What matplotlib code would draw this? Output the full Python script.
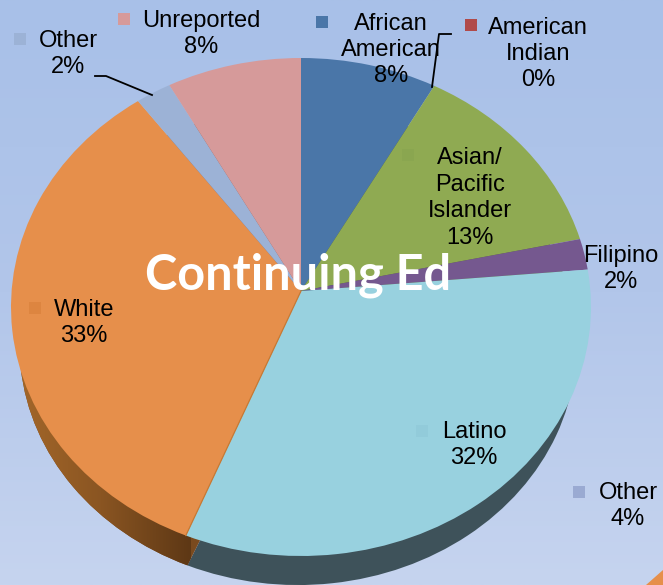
import numpy as np
import matplotlib
matplotlib.use("Agg")
import matplotlib.pyplot as plt
from matplotlib.colors import LinearSegmentedColormap

# slices as they appear, clockwise from 12 o'clock
slice_names = ["African American", "American Indian", "Asian/Pacific Islander", "Filipino",
               "Latino", "White", "Other", "Unreported"]
slice_values = [7.6, 0, 13, 2, 33.9, 34, 2, 7.5]
slice_colors = ["#4A76A8", "#B04A4A", "#8FAA52", "#75588F", "#98D1DF", "#E68F4B", "#9CB2D6", "#D69A9A"]
side_colors = ["#2F4A6A", "#6E2E2E", "#5A6B33", "#493759", "#3E525A", "#7A4A1E", "#61708A", "#876161"]

label_texts = ["Unreported\n8%", "Other\n2%", "African\nAmerican\n8%", "American\nIndian\n0%",
               "Asian/\nPacific\nIslander\n13%", "Filipino\n2%", "Latino\n32%", "Other\n4%", "White\n33%"]
label_xy = [(201, 34), (68, 54), (391, 50), (538, 54), (470, 198), (621, 269), (474, 445), (628, 506), (84, 323)]
key_xy = [(124, 19), (20, 39), (322, 22), (471, 25), (408, 155), None, (422, 431), (579, 492), (35, 308)]
key_colors = ["#D69A9A", "#9CB2D6", "#4A76A8", "#B04A4A", "#8AA650", None, "#92CBDA", "#9AAAD2", "#DD8540"]

W, H = 663, 585
cx, cy, rx, ry = 301, 307, 290, 249   # top face ellipse in pixels
apex_y = 291

fig = plt.figure(figsize=(W / 100, H / 100), dpi=100)

# background
bg = fig.add_axes([0, 0, 1, 1])
bg_cmap = LinearSegmentedColormap.from_list("bg", ["#A8C0E8", "#B2C6EA", "#C6D4EF"])
bg.imshow(np.linspace(0, 1, 256).reshape(-1, 1), cmap=bg_cmap, aspect="auto", extent=(0, W, H, 0))
bg.fill([646, 663, 663, 640], [585, 570, 585, 585], color="#E68F4B", lw=0)
bg.set_xlim(0, W)
bg.set_ylim(H, 0)
bg.axis("off")

# pie, one unit = rx/ry pixels
ax = fig.add_axes([0, 0, 1, 1])
ax.patch.set_alpha(0)
side, _ = ax.pie(slice_values, colors=side_colors, startangle=90, counterclock=False,
                 radius=0.96, center=(-3 / rx, -(346 - cy) / ry))
top, _ = ax.pie(slice_values, colors=slice_colors, startangle=90, counterclock=False)
ax.set_aspect("auto")

# shade the white slice's side from light to dark
shade = LinearSegmentedColormap.from_list("shade", ["#A5682A", "#8A5522", "#5E3815"])
im = ax.imshow(np.linspace(0, 1, 128).reshape(1, -1), cmap=shade, aspect="auto",
               extent=(-1.0, -0.38, -1.2, 0.0), zorder=side[5].get_zorder() + 0.1)
ax.set_xlim(-cx / rx, (W - cx) / rx)
ax.set_ylim(-(H - cy) / ry, cy / ry)
ax.axis("off")
im.set_clip_path(side[5])
for w in top:
    w.set_zorder(w.get_zorder() + 1)

# the perspective moves the apex above the ellipse centre
apex = (0.0, (cy - apex_y) / ry)
for w in top:
    v = w.get_path().vertices
    v[np.all(np.isclose(v, 0.0), axis=1)] = apex

# labels on top
ov = fig.add_axes([0, 0, 1, 1])
ov.patch.set_alpha(0)
ov.set_xlim(0, W)
ov.set_ylim(H, 0)
ov.axis("off")

# thin line on the white/latino edge
edge = 2 * np.pi * sum(slice_values[:5]) / sum(slice_values)
ov.plot([cx + rx * np.sin(edge), cx], [cy - ry * np.cos(edge), apex_y], color="#C87A35", lw=0.9)

for txt, (x, y) in zip(label_texts, label_xy):
    ov.text(x, y, txt, ha="center", va="center", fontsize=17, color="black",
            family="Liberation Sans", linespacing=1.26)
for k, c in zip(key_xy, key_colors):
    if k is not None:
        ov.plot(k[0], k[1], "s", ms=8.6, color=c, mew=0)

ov.plot([95, 106, 152], [76, 76, 95], color="black", lw=1.3)
ov.plot([451, 439, 432], [34, 34, 87], color="black", lw=1.3)

ov.text(298, 275, "Continuing Ed", ha="center", va="center", color="white",
        fontsize=35, fontweight="bold", family="Lato")

fig.savefig("out.png", dpi=100)
